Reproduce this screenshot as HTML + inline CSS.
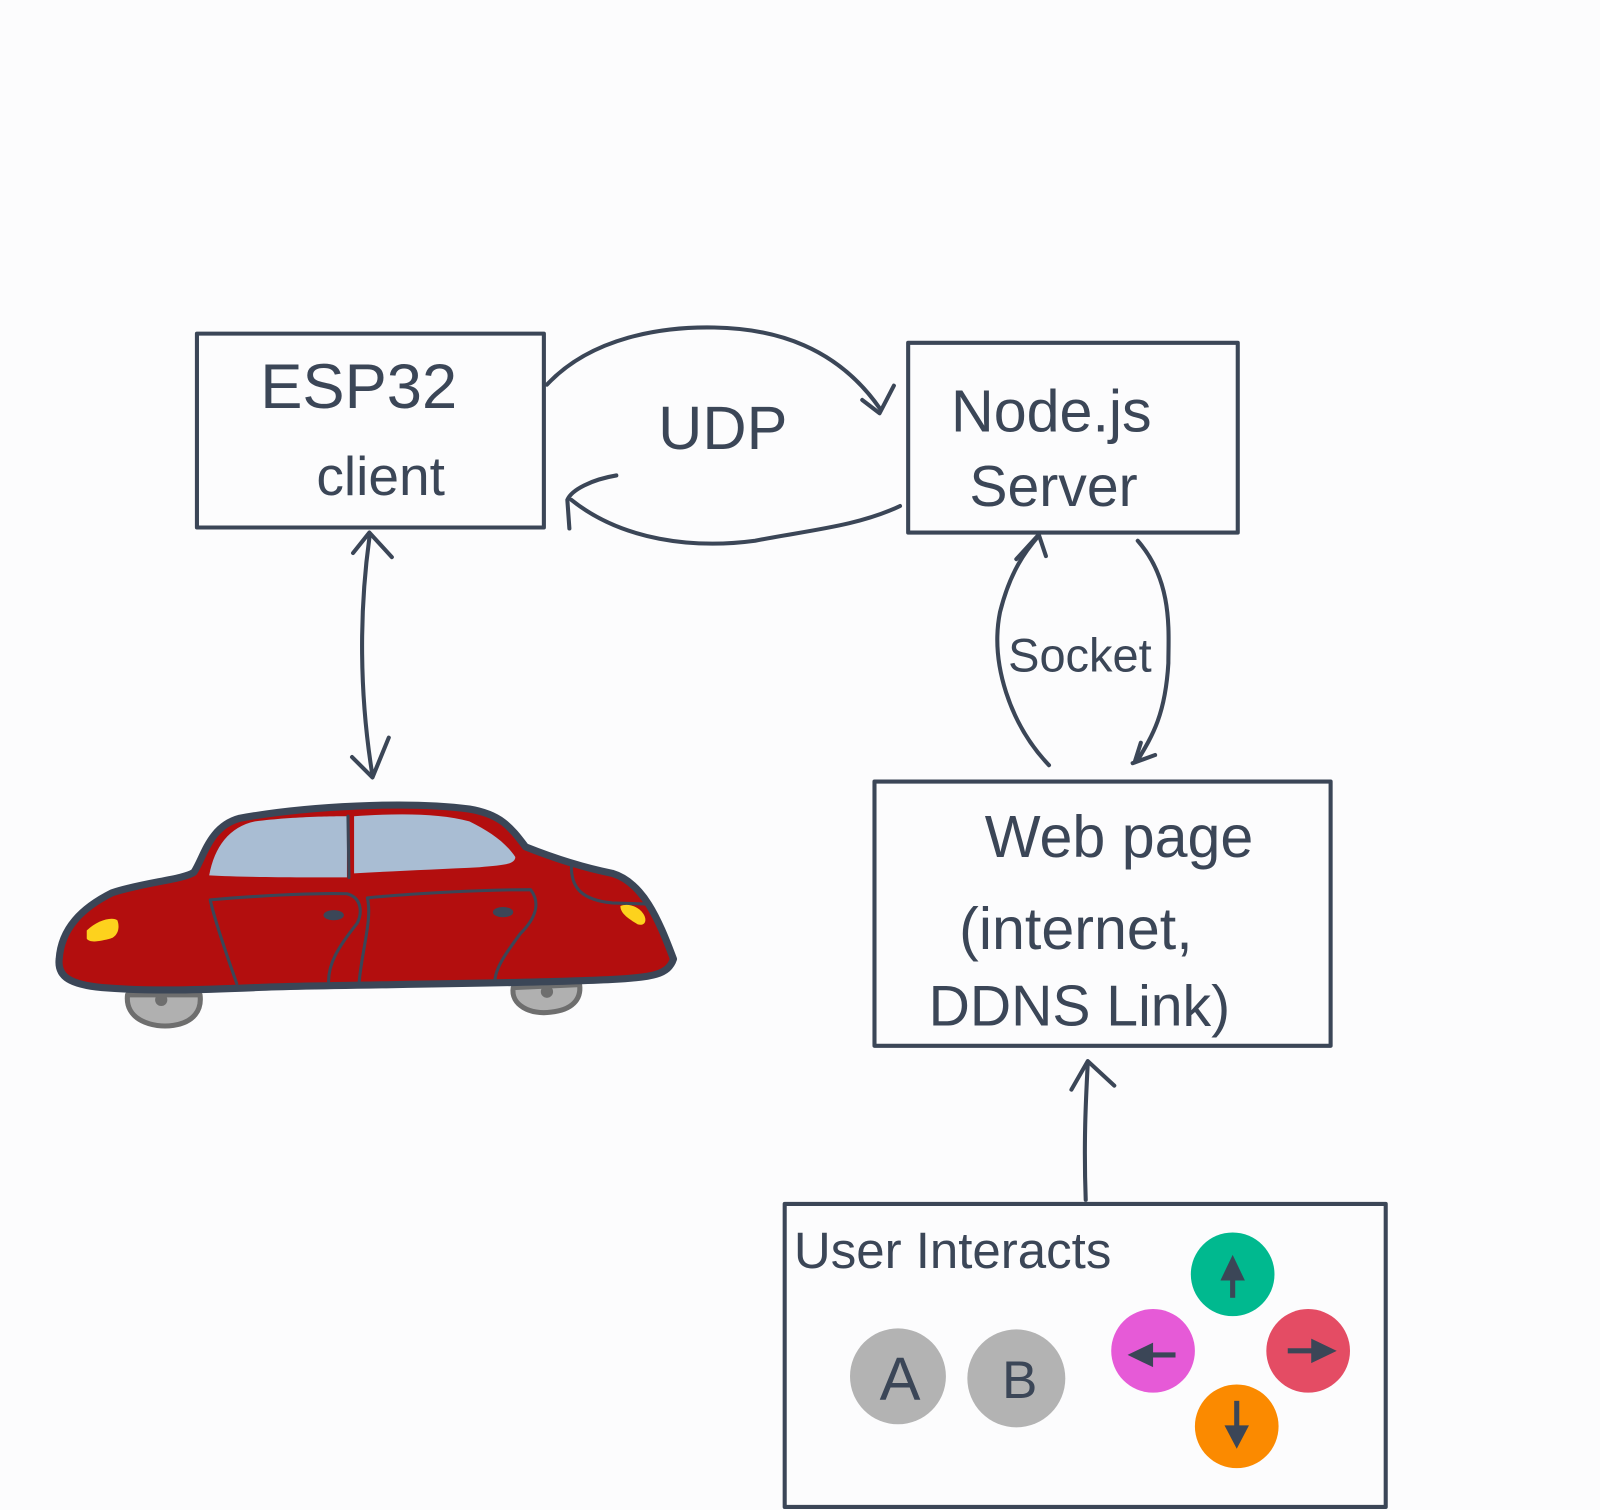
<!DOCTYPE html>
<html><head><style>
html,body{margin:0;padding:0;background:#fcfcfd;}
svg{display:block;}
text{font-family:"Liberation Sans",sans-serif;fill:#3b4657;}
</style></head><body>
<svg width="1600" height="1510" viewBox="0 0 1568 1480" preserveAspectRatio="none" xmlns="http://www.w3.org/2000/svg">
<rect width="1568" height="1480" fill="#fcfcfd"/>
<g fill="none" stroke="#3b4657" stroke-width="4" stroke-linecap="round" stroke-linejoin="round">
<rect x="193" y="327" width="340" height="190"/>
<rect x="890" y="336" width="323" height="186"/>
<rect x="857" y="766" width="447" height="259"/>
<rect x="769" y="1180" width="589" height="297"/>
<!-- UDP top arrow -->
<path d="M536 377 C580 330 650 320 700 321 C760 322 820 340 862 400"/>
<path d="M845 392 L862 405 L876 378"/>
<!-- UDP bottom arrow -->
<path d="M882 496 C840 516 790 520 740 530 C680 538 610 530 560 490"/>
<path d="M604 466 C580 470 560 480 556 490 L558 518"/>
<!-- ESP to car -->
<path d="M362 527 C352 600 352 680 365 760"/>
<path d="M346 542 L362 522 L384 546"/>
<path d="M345 742 L365 762 L381 723"/>
<!-- socket -->
<path d="M1028 750 C990 710 970 650 980 600 C990 560 1005 540 1018 525"/>
<path d="M996 548 L1018 524 L1025 545"/>
<path d="M1115 530 C1150 570 1145 620 1145 650 C1142 700 1130 720 1115 745"/>
<path d="M1110 748 L1132 740"/>
<path d="M1112 747 L1118 728"/>
<!-- user to web -->
<path d="M1064 1176 C1062 1120 1064 1080 1066 1042"/>
<path d="M1050 1068 L1066 1040 L1092 1064"/>
</g>
<text x="255" y="400" font-size="62">ESP32</text>
<text x="310" y="485" font-size="54">client</text>
<text x="645" y="440" font-size="60">UDP</text>
<text x="932" y="423" font-size="58">Node.js</text>
<text x="950" y="496" font-size="56">Server</text>
<text x="988" y="658" font-size="46">Socket</text>
<text x="965" y="840" font-size="58">Web page</text>
<text x="940" y="930" font-size="58">(internet,</text>
<text x="910" y="1005" font-size="56">DDNS  Link)</text>
<text x="778" y="1243" font-size="50">User Interacts</text>
<!-- buttons -->
<circle cx="880" cy="1349" r="47" fill="#b3b3b3"/>
<circle cx="996" cy="1351" r="48" fill="#b3b3b3"/>
<text x="862" y="1372" font-size="60">A</text>
<text x="982" y="1370" font-size="52">B</text>
<circle cx="1208" cy="1249" r="41" fill="#00b98f"/>
<circle cx="1130" cy="1324" r="41" fill="#e65ad7"/>
<circle cx="1282" cy="1324" r="41" fill="#e44c64"/>
<circle cx="1212" cy="1398" r="41" fill="#fb8a00"/>
<g fill="#3b4657" stroke="#3b4657" stroke-width="5">
<line x1="1208" y1="1272" x2="1208" y2="1245"/><polygon points="1196,1255 1208,1230 1220,1255" stroke="none"/>
<line x1="1152" y1="1328" x2="1125" y2="1328"/><polygon points="1130,1316 1105,1328 1130,1340" stroke="none"/>
<line x1="1262" y1="1324" x2="1290" y2="1324"/><polygon points="1285,1312 1310,1324 1285,1336" stroke="none"/>
<line x1="1212" y1="1373" x2="1212" y2="1402"/><polygon points="1200,1397 1212,1420 1224,1397" stroke="none"/>
</g>
<!-- car -->
<g stroke-linejoin="round" stroke-linecap="round">
<path d="M125 975 C122 1000 150 1008 170 1005 C190 1002 198 990 196 975 Z" fill="#b0b0b0" stroke="#6e6e6e" stroke-width="5"/>
<circle cx="158" cy="980" r="6" fill="#6e6e6e"/>
<path d="M503 968 C500 985 520 995 540 992 C560 990 570 980 568 965 Z" fill="#b0b0b0" stroke="#6e6e6e" stroke-width="5"/>
<circle cx="536" cy="972" r="6" fill="#6e6e6e"/>
<path d="M58 940 C60 910 80 890 110 875 C140 865 180 862 190 855 C200 840 205 810 235 802 C300 790 400 785 460 793 C490 798 500 810 515 830 C540 840 570 850 600 856 C630 865 645 900 660 940 C655 955 640 958 600 960 C500 965 300 965 250 968 C200 970 150 972 100 968 C70 965 56 958 58 940 Z" fill="#b30e0e" stroke="#3b4657" stroke-width="7"/>
<path d="M205 858 C210 830 225 810 250 805 C290 800 330 800 340 800 L340 860 C300 860 240 860 205 858 Z" fill="#a9bdd3"/>
<path d="M347 800 C390 797 430 797 460 805 C480 815 495 825 505 840 C505 848 490 848 470 850 C430 852 380 854 347 856 Z" fill="#a9bdd3"/>
<path d="M341 800 L342 860" stroke="#3b4657" stroke-width="3" fill="none"/>
<g fill="none" stroke="#3b4657" stroke-width="3">
<path d="M232 964 C220 930 210 900 206 882 C250 878 310 875 340 876 C355 880 355 895 350 905 C330 930 322 945 322 962"/>
<path d="M352 962 C355 930 365 900 360 880 C400 876 470 872 520 872 C530 885 525 900 510 915 C495 935 485 950 485 962"/>
<path d="M560 850 C560 870 570 882 600 885 L632 886"/>
</g>
<ellipse cx="327" cy="897" rx="10" ry="5" fill="#3b4657"/>
<ellipse cx="493" cy="894" rx="10" ry="5" fill="#3b4657"/>
<path d="M85 912 C95 902 110 898 115 902 C118 910 115 918 108 920 C100 922 88 925 85 920 Z" fill="#fdd21d"/>
<path d="M608 888 C615 885 625 888 630 895 C635 902 632 908 625 906 C615 900 608 895 608 888 Z" fill="#fdd21d"/>
</g>
</svg>
</body></html>
